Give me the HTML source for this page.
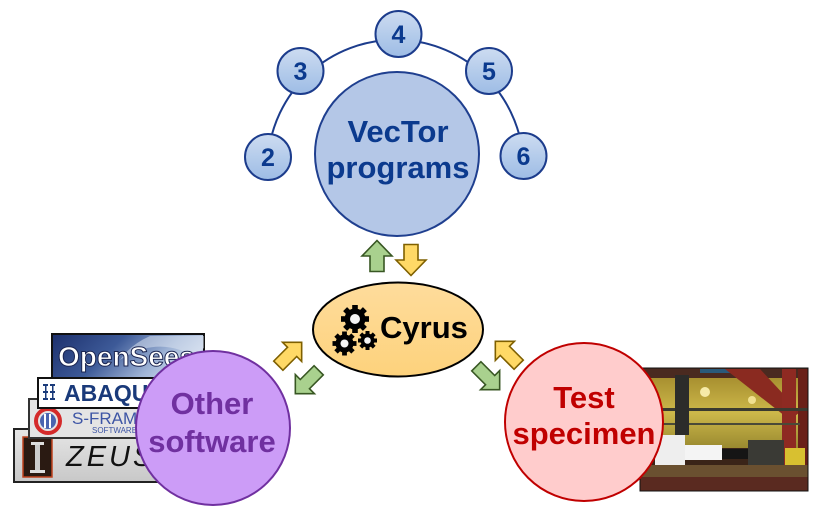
<!DOCTYPE html>
<html>
<head>
<meta charset="utf-8">
<style>
  html,body{margin:0;padding:0;background:#fff;}
  svg{display:block;}
  text{font-family:"Liberation Sans", Arial, sans-serif;}
</style>
</head>
<body>
<svg width="816" height="518" viewBox="0 0 816 518" xmlns="http://www.w3.org/2000/svg">
  <defs>
    <linearGradient id="gSmall" x1="0" y1="0" x2="0" y2="1">
      <stop offset="0" stop-color="#cddcf1"/>
      <stop offset="1" stop-color="#9dbce5"/>
    </linearGradient>
    <linearGradient id="gCyrus" x1="0" y1="0" x2="0" y2="1">
      <stop offset="0" stop-color="#fedc9c"/>
      <stop offset="1" stop-color="#fdd27c"/>
    </linearGradient>
    <linearGradient id="gOpen" x1="0" y1="0" x2="1" y2="0.3">
      <stop offset="0" stop-color="#1c2f6c"/>
      <stop offset="0.45" stop-color="#3d5a98"/>
      <stop offset="0.8" stop-color="#9fb4d6"/>
      <stop offset="1" stop-color="#c9d6ea"/>
    </linearGradient>
    <linearGradient id="gZeus" x1="0" y1="0" x2="0" y2="1">
      <stop offset="0" stop-color="#e6e6e6"/>
      <stop offset="1" stop-color="#c8c8c8"/>
    </linearGradient>
    <linearGradient id="gWall" x1="0" y1="0" x2="0" y2="1">
      <stop offset="0" stop-color="#a89030"/>
      <stop offset="0.5" stop-color="#cdb84a"/>
      <stop offset="1" stop-color="#9a8a30"/>
    </linearGradient>
    <path id="arrUp" d="M0,-15.5 L15,0 L7,0 L7,15.5 L-7,15.5 L-7,0 L-15,0 Z"/>
    <path id="arrDiag" d="M0,-16.5 L13.5,-3 L6.5,-3 L6.5,16.5 L-6.5,16.5 L-6.5,-3 L-13.5,-3 Z"/>
  </defs>

  <rect width="816" height="518" fill="#fff"/>

  <!-- Arc -->
  <path d="M268,157 A128,128 0 0 1 523,156" fill="none" stroke="#1c3c8c" stroke-width="2"/>

  <!-- VecTor circle -->
  <circle cx="397" cy="154" r="82" fill="#b4c7e7" stroke="#1f3f8f" stroke-width="2"/>
  <text x="398" y="142" font-size="31" font-weight="bold" fill="#0b3a8e" text-anchor="middle">VecTor</text>
  <text x="398" y="178" font-size="31" font-weight="bold" fill="#0b3a8e" text-anchor="middle">programs</text>

  <!-- Small numbered circles -->
  <g stroke="#1c3c8c" stroke-width="2" fill="url(#gSmall)">
    <circle cx="268" cy="157" r="23"/>
    <circle cx="300.5" cy="71" r="23"/>
    <circle cx="398.5" cy="34" r="23"/>
    <circle cx="489" cy="71" r="23"/>
    <circle cx="523.5" cy="156" r="23"/>
  </g>
  <g font-size="25" font-weight="bold" fill="#0b3a8e" text-anchor="middle">
    <text x="268" y="166">2</text>
    <text x="300.5" y="80">3</text>
    <text x="398.5" y="43">4</text>
    <text x="489" y="80">5</text>
    <text x="523.5" y="165">6</text>
  </g>

  <!-- Up / down arrows -->
  <use href="#arrUp" transform="translate(377,256)" fill="#a9d18e" stroke="#385723" stroke-width="1.6"/>
  <use href="#arrUp" transform="translate(411,260) rotate(180)" fill="#ffd966" stroke="#7f6000" stroke-width="1.6"/>

  <!-- Cyrus ellipse -->
  <ellipse cx="398" cy="329.5" rx="85" ry="47" fill="url(#gCyrus)" stroke="#000" stroke-width="2"/>
  <!-- gears -->
  <g fill="#000">
    <g transform="translate(355,319)">
      <circle r="10.5"/>
      <rect x="-2.8" y="-14" width="5.6" height="28"/>
      <rect x="-2.8" y="-14" width="5.6" height="28" transform="rotate(45)"/>
      <rect x="-2.8" y="-14" width="5.6" height="28" transform="rotate(90)"/>
      <rect x="-2.8" y="-14" width="5.6" height="28" transform="rotate(135)"/>
      <circle r="5" fill="#f4f4f4"/>
    </g>
    <g transform="translate(344.5,343.5)">
      <circle r="9"/>
      <rect x="-2.4" y="-12" width="4.8" height="24"/>
      <rect x="-2.4" y="-12" width="4.8" height="24" transform="rotate(45)"/>
      <rect x="-2.4" y="-12" width="4.8" height="24" transform="rotate(90)"/>
      <rect x="-2.4" y="-12" width="4.8" height="24" transform="rotate(135)"/>
      <circle r="4" fill="#f4f4f4"/>
    </g>
    <g transform="translate(367.5,340.5)">
      <circle r="7"/>
      <rect x="-2" y="-9.5" width="4" height="19"/>
      <rect x="-2" y="-9.5" width="4" height="19" transform="rotate(45)"/>
      <rect x="-2" y="-9.5" width="4" height="19" transform="rotate(90)"/>
      <rect x="-2" y="-9.5" width="4" height="19" transform="rotate(135)"/>
      <circle r="3.3" fill="#f4f4f4"/>
    </g>
  </g>
  <text x="380" y="338" font-size="31" font-weight="bold" fill="#000">Cyrus</text>

  <!-- Diagonal arrows -->
  <use href="#arrDiag" transform="translate(290,354) rotate(45)" fill="#ffd966" stroke="#7f6000" stroke-width="1.6"/>
  <use href="#arrDiag" transform="translate(307,382) rotate(225)" fill="#a9d18e" stroke="#385723" stroke-width="1.6"/>
  <use href="#arrDiag" transform="translate(507,353) rotate(-45)" fill="#ffd966" stroke="#7f6000" stroke-width="1.6"/>
  <use href="#arrDiag" transform="translate(488,378) rotate(135)" fill="#a9d18e" stroke="#385723" stroke-width="1.6"/>

  <!-- Software logos -->
  <!-- ZEUS -->
  <rect x="14" y="429" width="190" height="53" fill="url(#gZeus)" stroke="#222" stroke-width="2"/>
  <rect x="23" y="437" width="29" height="40" fill="#2a1a12" stroke="#c0431e" stroke-width="1.5"/>
  <rect x="31" y="442" width="13" height="3" fill="#ddd"/>
  <rect x="35" y="445" width="5" height="25" fill="#ccc"/>
  <rect x="30" y="470" width="15" height="3" fill="#ddd"/>
  <text x="66" y="466" font-size="29" font-family="Liberation Serif, serif" font-style="italic" fill="#111" letter-spacing="3" transform="scale(1,1)">ZEUS</text>
  <!-- S-FRAME -->
  <rect x="29" y="399" width="175" height="39" fill="#e4e4e4" stroke="#333" stroke-width="2"/>
  <circle cx="48" cy="421" r="12" fill="none" stroke="#d42a2a" stroke-width="4"/>
  <circle cx="48" cy="421" r="8" fill="#4a64b0"/>
  <rect x="44" y="414" width="2" height="14" fill="#fff"/>
  <rect x="49" y="414" width="2" height="14" fill="#fff"/>
  <text x="72" y="424" font-size="17" fill="#3d55a5">S-FRAME</text>
  <text x="92" y="433" font-size="8" fill="#3d55a5">SOFTWARE</text>
  <!-- ABAQUS -->
  <rect x="38" y="378" width="166" height="30" fill="#fff" stroke="#111" stroke-width="2"/>
  <g fill="#1a3a7a">
    <rect x="43" y="384" width="5" height="2"/><rect x="50" y="384" width="5" height="2"/>
    <rect x="45" y="386" width="1.5" height="5"/><rect x="52" y="386" width="1.5" height="5"/>
    <rect x="43" y="391" width="5" height="2"/><rect x="50" y="391" width="5" height="2"/>
    <rect x="45" y="393" width="1.5" height="5"/><rect x="52" y="393" width="1.5" height="5"/>
    <rect x="43" y="398" width="5" height="2"/><rect x="50" y="398" width="5" height="2"/>
  </g>
  <text x="64" y="401" font-size="23" font-weight="bold" fill="#1a3a7a">ABAQUS</text>
  <!-- OpenSees -->
  <rect x="52" y="334" width="152" height="44" fill="url(#gOpen)" stroke="#111" stroke-width="2"/>
  <path d="M120,360 Q150,340 180,350 Q195,356 204,348 L204,336 L150,336 Q130,345 120,360 Z" fill="#dde6f2" opacity="0.5"/>
  <text x="58" y="366" font-size="28" font-weight="bold" fill="#fff" stroke="#1a2450" stroke-width="1">OpenSees</text>

  <!-- Other software circle -->
  <circle cx="213" cy="428" r="77" fill="#cc9cf7" stroke="#7030a0" stroke-width="2"/>
  <text x="212" y="414" font-size="31" font-weight="bold" fill="#7030a0" text-anchor="middle">Other</text>
  <text x="212" y="452" font-size="31" font-weight="bold" fill="#7030a0" text-anchor="middle">software</text>

  <!-- Test photo -->
  <g>
    <rect x="640" y="368" width="168" height="123" fill="#3a2418"/>
    <rect x="648" y="378" width="150" height="70" fill="url(#gWall)"/>
    <rect x="640" y="368" width="168" height="10" fill="#4a2a20"/>
    <rect x="700" y="369" width="40" height="4" fill="#2a5a7a"/>
    <polygon points="725,369 760,369 800,412 790,420" fill="#8a2a20"/>
    <rect x="782" y="369" width="14" height="110" fill="#8e2a22"/>
    <rect x="798" y="369" width="10" height="110" fill="#6a2018"/>
    <circle cx="705" cy="392" r="5" fill="#f6eaa8"/>
    <circle cx="752" cy="400" r="4" fill="#f0e090"/>
    <rect x="640" y="408" width="168" height="3" fill="#3a3a30"/>
    <rect x="640" y="423" width="160" height="2" fill="#4a4a38"/>
    <rect x="675" y="375" width="14" height="60" fill="#2c2c2a"/>
    <rect x="655" y="435" width="30" height="30" fill="#eee"/>
    <rect x="685" y="445" width="37" height="15" fill="#f4f4f4"/>
    <rect x="722" y="449" width="36" height="10" fill="#151515"/>
    <rect x="748" y="440" width="36" height="28" fill="#3a3a35"/>
    <rect x="785" y="448" width="20" height="18" fill="#d8c030"/>
    <rect x="640" y="465" width="168" height="12" fill="#6a5030"/>
    <rect x="640" y="477" width="168" height="14" fill="#5a2a20"/>
    <rect x="640" y="368" width="168" height="123" fill="none" stroke="#111" stroke-width="1"/>
  </g>

  <!-- Test specimen circle -->
  <circle cx="584" cy="422" r="79" fill="#ffcccc" stroke="#c00000" stroke-width="2"/>
  <text x="584" y="408" font-size="31" font-weight="bold" fill="#c00000" text-anchor="middle">Test</text>
  <text x="584" y="444" font-size="31" font-weight="bold" fill="#c00000" text-anchor="middle">specimen</text>
</svg>
</body>
</html>
